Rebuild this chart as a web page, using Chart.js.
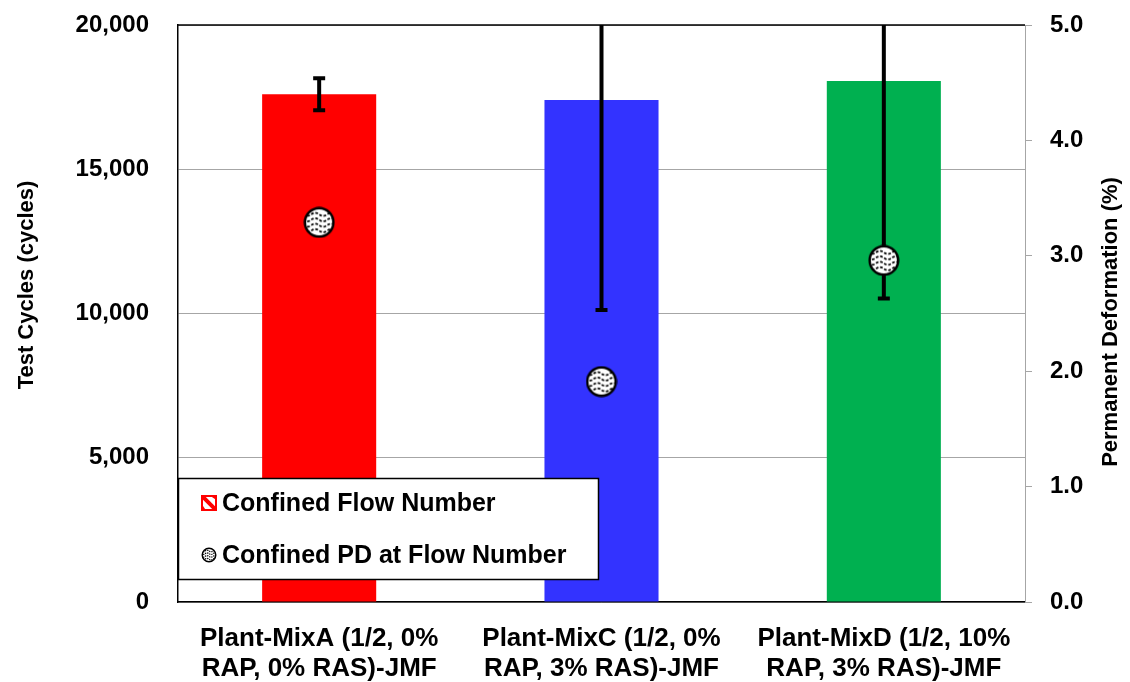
<!DOCTYPE html>
<html>
<head>
<meta charset="utf-8">
<script src="https://cdn.jsdelivr.net/npm/chart.js@4/dist/chart.umd.min.js"></script>
<style>
  body { margin: 0; background: #fff; }
  #wrap { width: 1130px; height: 682px; }
</style>
</head>
<body>
<div id="wrap"><canvas id="chart" width="1130" height="682"></canvas></div>
<script>
'use strict';

// **** Data ****
let mixNames = [
  ['Plant-MixA (1/2, 0%', 'RAP, 0% RAS)-JMF'],
  ['Plant-MixC (1/2, 0%', 'RAP, 3% RAS)-JMF'],
  ['Plant-MixD (1/2, 10%', 'RAP, 3% RAS)-JMF']
];
let flowNumber = [17600, 17400, 18060];
let flowNumberErr = [555, 7280, 7540];
let pdAtFlow = [3.29, 1.91, 2.96];
let barColors = ['#FF0000', '#3333FF', '#00B050'];
let legendLabels = ['Confined Flow Number', 'Confined PD at Flow Number'];

let FONT = '"Liberation Sans", Arial, sans-serif';

// **** Marker (white ball with wavy texture) ****

function makeMarker(size, lw){
  let c = document.createElement('canvas');
  c.width = size;
  c.height = size;
  let g = c.getContext('2d');
  let m = size / 2;
  let r = m - lw / 2 - 0.5;
  g.beginPath();
  g.arc(m, m, r, 0, Math.PI * 2);
  g.fillStyle = '#fff';
  g.fill();
  g.save();
  g.clip();
  g.strokeStyle = '#000';
  g.lineWidth = Math.max(1.2, size / 18);
  g.setLineDash([size / 12, size / 18]);
  for (let row = 0; row < 4; row++){
    let y0 = size * (0.25 + row * 0.17);
    g.beginPath();
    for (let x = 0; x <= size; x++){
      let y = y0 + Math.sin(x / size * Math.PI * 4) * size * 0.05;
      if (x === 0) g.moveTo(x, y); else g.lineTo(x, y);
    }
    g.stroke();
  }
  g.restore();
  g.beginPath();
  g.arc(m, m, r, 0, Math.PI * 2);
  g.strokeStyle = '#000';
  g.lineWidth = lw;
  g.stroke();
  return c;
}

let pdMarker = makeMarker(32, 2.5);
let pdLegendMarker = makeMarker(16, 1.5);

// **** Plugins ****

// error bars on the flow number bars, drawn before the PD points
let errorBars = {
  id: 'errorBars',
  afterDatasetDraw(chart, args){
    if (args.index !== 0) return;
    let ctx = chart.ctx;
    let y = chart.scales.y;
    let area = chart.chartArea;
    ctx.save();
    ctx.beginPath();
    ctx.rect(area.left, area.top, area.right - area.left, area.bottom - area.top);
    ctx.clip();
    ctx.strokeStyle = '#000';
    args.meta.data.forEach((bar, i) => {
      let hi = y.getPixelForValue(flowNumber[i] + flowNumberErr[i]);
      let lo = y.getPixelForValue(flowNumber[i] - flowNumberErr[i]);
      ctx.lineWidth = 4;
      ctx.beginPath();
      ctx.moveTo(bar.x, hi);
      ctx.lineTo(bar.x, lo);
      ctx.stroke();
      ctx.beginPath();
      ctx.moveTo(bar.x - 6, hi);
      ctx.lineTo(bar.x + 6, hi);
      ctx.moveTo(bar.x - 6, lo);
      ctx.lineTo(bar.x + 6, lo);
      ctx.stroke();
    });
    ctx.restore();
  }
};

// axis titles, top frame line and the boxed legend
let frameAndLegend = {
  id: 'frameAndLegend',
  afterDraw(chart){
    let ctx = chart.ctx;
    let area = chart.chartArea;
    ctx.save();

    ctx.strokeStyle = '#000';
    ctx.lineWidth = 1.5;
    ctx.beginPath();
    ctx.moveTo(area.left, area.top);
    ctx.lineTo(area.right, area.top);
    ctx.stroke();

    ctx.fillStyle = '#000';
    ctx.font = 'bold 22px ' + FONT;
    ctx.textAlign = 'center';
    ctx.textBaseline = 'middle';
    ctx.save();
    ctx.translate(27, 285);
    ctx.rotate(-Math.PI / 2);
    ctx.fillText('Test Cycles (cycles)', 0, 0);
    ctx.restore();
    ctx.save();
    ctx.translate(1111, 322);
    ctx.rotate(-Math.PI / 2);
    ctx.fillText('Permanent Deformation (%)', 0, 0);
    ctx.restore();

    // legend box
    let bx = 178.5, by = 478.5, bw = 420, bh = 101;
    ctx.fillStyle = '#fff';
    ctx.fillRect(bx, by, bw, bh);
    ctx.strokeStyle = '#000';
    ctx.lineWidth = 1.5;
    ctx.strokeRect(bx, by, bw, bh);

    // hatched red square
    let sx = 202, sy = 496, s = 14;
    ctx.fillStyle = '#fff';
    ctx.fillRect(sx, sy, s, s);
    ctx.save();
    ctx.beginPath();
    ctx.rect(sx, sy, s, s);
    ctx.clip();
    ctx.strokeStyle = '#FF0000';
    ctx.lineWidth = 4;
    ctx.beginPath();
    ctx.moveTo(sx, sy);
    ctx.lineTo(sx + s, sy + s);
    ctx.moveTo(sx - 4, sy + 6);
    ctx.lineTo(sx + s - 10, sy + s + 4);
    ctx.moveTo(sx + 6, sy - 4);
    ctx.lineTo(sx + s + 4, sy + s - 10);
    ctx.stroke();
    ctx.restore();
    ctx.strokeStyle = '#FF0000';
    ctx.lineWidth = 2;
    ctx.strokeRect(sx, sy, s, s);

    ctx.drawImage(pdLegendMarker, 201, 547);

    ctx.fillStyle = '#000';
    ctx.font = 'bold 25px ' + FONT;
    ctx.textAlign = 'left';
    ctx.textBaseline = 'middle';
    ctx.fillText(legendLabels[0], 222, 504);
    ctx.fillText(legendLabels[1], 222, 556);

    ctx.restore();
  }
};

// vertical axes: fixed width, no extra room for the end labels
function fixWidth(w){
  return function(scale){
    scale.width = w;
    scale.paddingTop = 0;
    scale.paddingBottom = 0;
  };
}

// **** Chart ****

let chartObj = {
  type: 'bar',
  data: {
    labels: mixNames,
    datasets: [{
      label: legendLabels[0],
      data: flowNumber,
      backgroundColor: barColors,
      borderWidth: 0,
      categoryPercentage: 1,
      barPercentage: 0.404,
      yAxisID: 'y',
      order: 2
    },
    {
      type: 'line',
      label: legendLabels[1],
      data: pdAtFlow,
      showLine: false,
      pointStyle: pdMarker,
      pointRadius: 16,
      yAxisID: 'y1',
      order: 1
    }]
  },
  options: {
    responsive: false,
    animation: false,
    events: [],
    layout: { padding: { top: 25, bottom: 0 } },
    scales: {
      x: {
        grid: { display: false },
        border: { color: '#000', width: 1.5 },
        ticks: {
          color: '#000',
          padding: 14,
          maxRotation: 0,
          autoSkip: false,
          font: { family: FONT, size: 26, weight: 'bold', lineHeight: 1.15 }
        },
        afterFit(scale){ scale.height = 80; }
      },
      y: {
        position: 'left',
        min: 0,
        max: 20000,
        grid: {
          drawTicks: false,
          color: '#A6A6A6',
          lineWidth: 1
        },
        border: { color: '#000', width: 1.5 },
        ticks: {
          stepSize: 5000,
          padding: 29,
          color: '#000',
          font: { family: FONT, size: 24, weight: 'bold' },
          callback: (v) => v.toLocaleString('en-US')
        },
        afterFit: fixWidth(178)
      },
      y1: {
        position: 'right',
        min: 0,
        max: 5,
        grid: {
          drawOnChartArea: false,
          drawTicks: true,
          tickLength: 7,
          color: '#A6A6A6'
        },
        border: { color: '#A6A6A6', width: 1 },
        ticks: {
          stepSize: 1,
          padding: 18,
          color: '#000',
          font: { family: FONT, size: 24, weight: 'bold' },
          callback: (v) => v.toFixed(1)
        },
        afterFit: fixWidth(105)
      }
    },
    plugins: {
      legend: { display: false },
      tooltip: { enabled: false }
    }
  },
  plugins: [errorBars, frameAndLegend]
};

new Chart(document.getElementById('chart'), chartObj);
</script>
</body>
</html>
